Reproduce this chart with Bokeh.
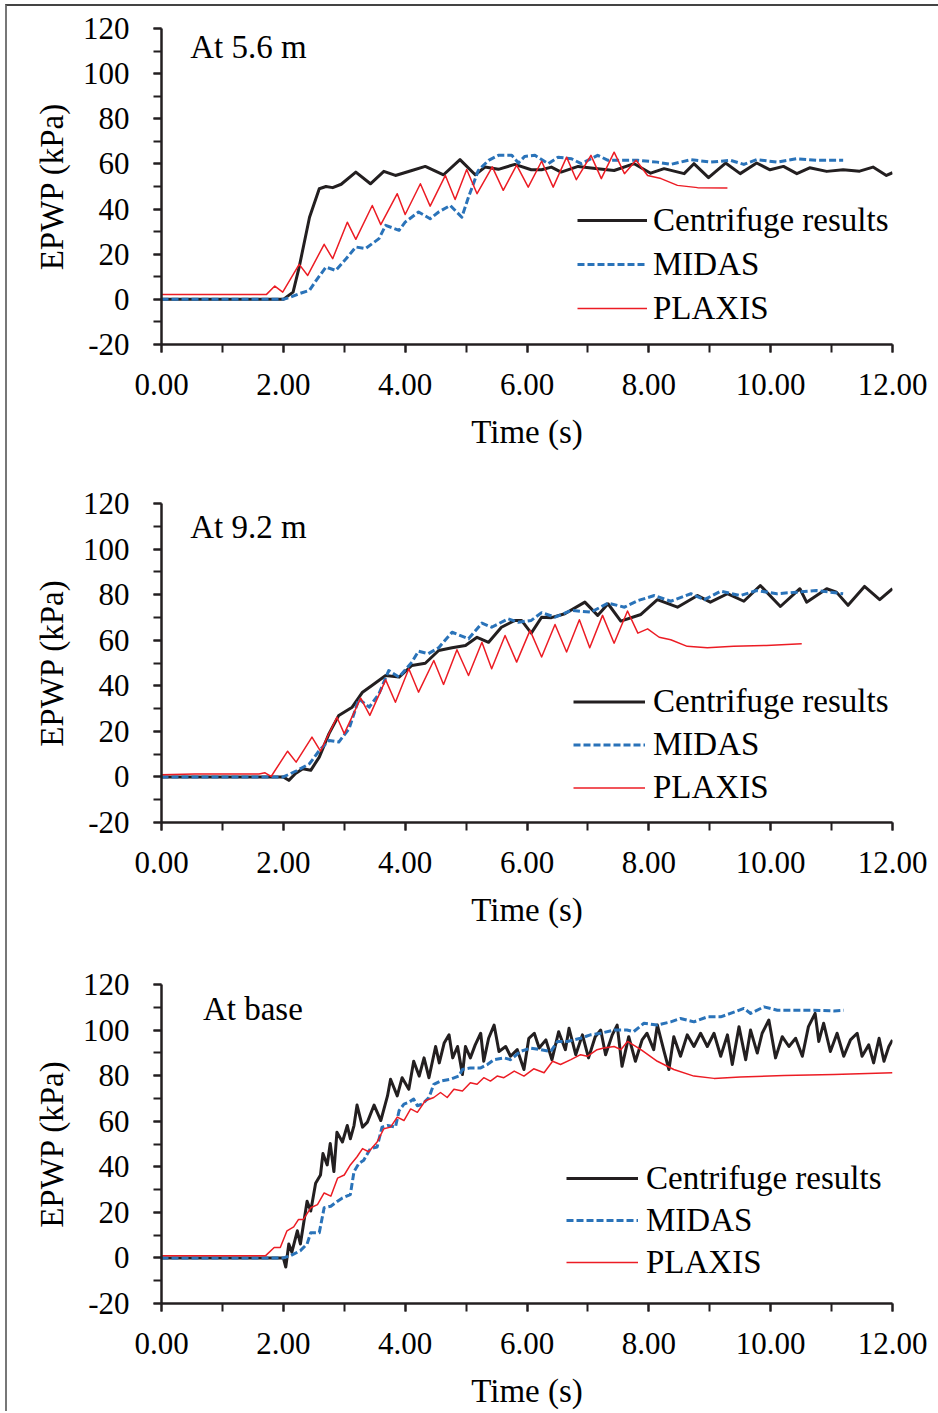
from bokeh.plotting import figure
from bokeh.layouts import column
from bokeh.models import (Range1d, SingleIntervalTicker, PrintfTickFormatter,
                          Legend, Label)
from bokeh.embed import file_html
from bokeh.resources import INLINE

# ---------------- data (time in s, EPWP in kPa) ----------------
# Panel 1 : At 5.6 m
c1_t = [0, 2.0, 2.16, 2.26, 2.43, 2.59, 2.7, 2.81, 2.95, 3.19, 3.43, 3.65, 3.84, 4.11, 4.33, 4.63, 4.90, 5.15, 5.31, 5.53,
        5.80, 6.07, 6.24, 6.40, 6.56, 6.84, 7.16, 7.43, 7.76, 8.03, 8.25, 8.58, 8.74, 8.98, 9.26, 9.50, 9.77, 9.99, 10.21, 10.43,
        10.64, 10.92, 11.19, 11.46, 11.68, 11.90, 12.0]
c1_v = [0, 0, 3.2, 14.3, 36.4, 49, 50, 49.5, 51, 56.4, 51.2, 56.7, 54.9, 57.1, 58.9, 55.2, 61.9, 55.2, 58.6, 57.6,
        59.8, 57.4, 57.4, 58.6, 56.4, 58.9, 57.9, 57.1, 60.1, 55.9, 57.9, 55.7, 60.1, 53.9, 60.4, 55.7, 60.4, 57.4, 58.9, 55.7,
        58.3, 56.7, 57.4, 56.8, 58.6, 54.9, 56.1]
m1_t = [0, 2.0, 2.12, 2.26, 2.43, 2.54, 2.70, 2.86, 3.03, 3.19, 3.35, 3.57, 3.68, 3.90, 4.0, 4.22, 4.41, 4.55, 4.74, 4.93,
        5.04, 5.20, 5.37, 5.53, 5.75, 5.86, 5.96, 6.13, 6.35, 6.51, 6.73, 6.89, 7.16, 7.33, 7.60, 7.82, 8.14, 8.36, 8.69, 9.01,
        9.34, 9.56, 9.77, 10.10, 10.43, 10.75, 11.19]
m1_v = [0, 0, 1, 2.5, 4.0, 8.4, 14.3, 12.8, 18.0, 23.2, 22.5, 26.9, 32.8, 30.6, 34.2, 38.7, 35.7, 38.7, 41.6, 36.4,
        45.3, 57.1, 61.6, 63.8, 63.8, 60.4, 63.3, 63.8, 60.1, 63.0, 62.3, 60.1, 63.8, 61.6, 61.6, 61.6, 60.8, 59.8, 61.9, 60.8,
        61.6, 59.8, 61.9, 60.8, 62.3, 61.6, 61.6]
p1_t = [0, 1.72, 1.86, 1.99, 2.26, 2.40, 2.67, 2.81, 3.05, 3.19, 3.46, 3.60, 3.87, 4.0, 4.25, 4.41, 4.66, 4.82, 5.01, 5.18,
        5.43, 5.61, 5.83, 6.02, 6.24, 6.43, 6.65, 6.81, 7.05, 7.22, 7.43, 7.60, 7.79, 7.98, 8.20, 8.47, 8.80, 9.29]
p1_v = [2.1, 2.1, 5.9, 3.2, 15.5, 10.6, 24.4, 18.0, 34.2, 26.6, 41.6, 33.1, 46.8, 37.6, 51.2, 41.3, 54.9, 44.2, 57.5, 46.8,
        58.7, 48.3, 59.5, 49.7, 61.2, 49.7, 63.0, 53.0, 63.8, 53.5, 65.2, 55.7, 61.6, 54.9, 53.5, 50.5, 49.5, 49.3]

# Panel 2 : At 9.2 m
c2_t = [0, 2.0, 2.09, 2.2, 2.32, 2.45, 2.59, 2.75, 2.91, 3.13, 3.30, 3.46, 3.68, 3.90, 4.11, 4.33, 4.55, 4.77, 4.99, 5.18,
        5.37, 5.58, 5.80, 5.91, 6.07, 6.24, 6.40, 6.62, 6.95, 7.16, 7.33, 7.54, 7.87, 8.14, 8.47, 8.80, 9.01, 9.29, 9.56, 9.83,
        10.16, 10.48, 10.59, 10.92, 11.08, 11.27, 11.54, 11.79, 12.0]
c2_v = [0, 0, -1.5, 1.5, 3.6, 2.9, 8.7, 19.0, 27.0, 30.6, 37.2, 40.2, 44.5, 43.8, 48.9, 49.9, 55.5, 56.7, 57.7, 61.3,
        59.1, 65.7, 68.7, 68.7, 63.1, 70.1, 69.9, 71.6, 76.7, 70.9, 76.0, 68.4, 71.3, 77.8, 74.5, 79.6, 76.7, 80.4, 77.1, 84.0,
        74.8, 82.6, 76.7, 82.6, 81.1, 75.3, 83.6, 77.8, 82.6]
m2_t = [0, 2.0, 2.21, 2.43, 2.59, 2.75, 2.91, 3.08, 3.24, 3.41, 3.57, 3.73, 3.90, 4.11, 4.22, 4.38, 4.55, 4.77, 5.04, 5.26,
        5.42, 5.69, 5.86, 6.07, 6.24, 6.46, 6.73, 7.05, 7.33, 7.60, 7.82, 8.09, 8.36, 8.69, 8.91, 9.18, 9.50, 9.77, 10.10, 10.43,
        10.75, 11.19]
m2_v = [0, 0, 2.6, 5.8, 11.6, 16.0, 15.3, 21.2, 34.3, 30.6, 36.5, 46.7, 43.8, 50.4, 55.2, 54.1, 56.7, 63.5, 60.6, 67.5,
        65.7, 69.4, 67.9, 68.7, 72.1, 70.1, 73.1, 72.3, 76.3, 74.5, 77.4, 79.6, 77.1, 80.4, 77.8, 81.5, 79.6, 81.8, 80.4, 81.1,
        81.8, 80.4]
p2_t = [0, 0.55, 1.6, 1.70, 1.80, 2.07, 2.21, 2.47, 2.61, 2.88, 3.0, 3.27, 3.42, 3.68, 3.84, 4.06, 4.22, 4.47, 4.63, 4.85,
        5.04, 5.26, 5.42, 5.64, 5.83, 6.05, 6.24, 6.46, 6.65, 6.86, 7.03, 7.24, 7.43, 7.65, 7.82, 7.98, 8.17, 8.36, 8.63, 8.96,
        9.39, 9.93, 10.51]
p2_v = [1.0, 1.3, 1.3, 1.8, 0.2, 11.3, 6.5, 17.5, 11.3, 26.2, 19.0, 34.6, 27.0, 42.6, 32.8, 47.5, 37.2, 51.1, 40.6, 55.8,
        44.5, 59.1, 47.5, 62.1, 50.4, 64.3, 52.6, 66.9, 54.8, 69.0, 56.7, 70.9, 58.7, 72.8, 63.1, 65.0, 61.3, 60.2, 57.3, 56.7,
        57.3, 57.7, 58.4]

# Panel 3 : At base
c3_t = [0, 2.0, 2.04, 2.09, 2.14, 2.23, 2.28, 2.39, 2.45, 2.53, 2.61, 2.65, 2.72, 2.77, 2.83, 2.88, 2.97, 3.05, 3.10, 3.16,
        3.21, 3.30, 3.38, 3.49, 3.60, 3.71, 3.76, 3.87, 3.95, 4.06, 4.14, 4.23, 4.31, 4.39, 4.50, 4.56, 4.64, 4.72, 4.78, 4.86,
        4.94, 4.99, 5.07, 5.15, 5.24, 5.29, 5.37, 5.46, 5.54, 5.65, 5.73, 5.84, 5.95, 6.03, 6.12, 6.20, 6.31, 6.41, 6.52, 6.63,
        6.69, 6.80, 6.91, 7.01, 7.12, 7.21, 7.29, 7.40, 7.48, 7.56, 7.67, 7.78, 7.89, 7.97, 8.08, 8.14, 8.25, 8.33, 8.41, 8.52,
        8.63, 8.74, 8.85, 8.96, 9.07, 9.18, 9.29, 9.37, 9.48, 9.59, 9.67, 9.78, 9.86, 9.97, 10.08, 10.19, 10.30, 10.41, 10.52, 10.62,
        10.73, 10.79, 10.87, 10.98, 11.09, 11.20, 11.31, 11.42, 11.50, 11.61, 11.69, 11.78, 11.86, 11.94, 12.0]
c3_v = [0, 0, -4.0, 6.1, 2.5, 11.9, 6.1, 24.9, 20.6, 32.8, 36.4, 45.8, 40.8, 50.2, 37.9, 55.2, 50.9, 58.1, 52.3, 58.1,
        67.1, 57.4, 59.6, 67.1, 60.3, 71.1, 78.4, 71.1, 79.1, 74.0, 86.3, 79.8, 87.8, 79.1, 92.8, 85.6, 94.3, 97.9, 87.8, 92.8,
        80.5, 92.8, 87.8, 93.5, 98.6, 86.3, 96.4, 102.2, 90.6, 92.8, 88.5, 91.4, 82.7, 96.4, 98.6, 92.1, 95.7, 87.0, 99.3, 91.4,
        100.8, 89.2, 97.9, 87.8, 97.1, 100.0, 89.2, 97.9, 102.2, 84.1, 97.1, 86.3, 95.7, 98.6, 91.4, 102.2, 90.6, 82.7, 97.1, 88.5,
        97.9, 92.8, 98.6, 92.8, 98.6, 88.5, 97.9, 84.9, 101.5, 87.0, 100.0, 89.9, 98.6, 104.4, 87.8, 97.1, 92.8, 96.4, 88.5, 101.5,
        107.3, 95.0, 103.0, 90.6, 98.6, 88.5, 95.7, 98.6, 88.5, 93.5, 85.6, 96.4, 86.3, 92.8, 95.7]
m3_t = [0, 2.0, 2.12, 2.28, 2.39, 2.45, 2.59, 2.67, 2.78, 2.89, 2.97, 3.10, 3.16, 3.24, 3.32, 3.43, 3.54, 3.62, 3.71, 3.84,
        3.90, 3.98, 4.06, 4.14, 4.20, 4.28, 4.39, 4.47, 4.58, 4.74, 4.88, 4.94, 5.07, 5.24, 5.35, 5.46, 5.62, 5.73, 5.89, 6.06,
        6.22, 6.39, 6.50, 6.66, 6.88, 7.04, 7.21, 7.43, 7.64, 7.75, 7.92, 8.14, 8.36, 8.52, 8.74, 8.96, 9.18, 9.34, 9.56, 9.67,
        9.89, 10.11, 10.38, 10.71, 11.04, 11.20]
m3_v = [0, 0, 1.0, 3.2, 6.1, 11.1, 11.1, 22.0, 22.7, 24.9, 26.3, 27.8, 37.9, 41.5, 42.9, 48.0, 48.7, 57.4, 58.1, 57.4,
        64.6, 67.5, 68.3, 69.7, 66.8, 67.5, 70.4, 76.2, 77.6, 78.4, 79.8, 82.7, 83.4, 83.4, 84.9, 87.0, 87.8, 87.0, 90.6, 92.1,
        91.4, 90.6, 95.0, 95.0, 96.4, 97.9, 98.6, 100.0, 100.0, 99.3, 103.0, 102.2, 103.6, 105.1, 103.6, 105.8, 105.8, 107.3, 109.5, 107.3,
        110.2, 108.7, 108.7, 108.7, 108.4, 108.7]
p3_t = [0, 1.71, 1.85, 1.95, 2.06, 2.17, 2.25, 2.33, 2.45, 2.56, 2.67, 2.78, 2.89, 3.00, 3.10, 3.21, 3.30, 3.40, 3.54, 3.65,
        3.76, 3.87, 3.98, 4.09, 4.20, 4.33, 4.47, 4.58, 4.69, 4.80, 4.94, 5.07, 5.18, 5.29, 5.40, 5.51, 5.62, 5.79, 5.95, 6.11,
        6.28, 6.42, 6.55, 6.72, 6.88, 6.99, 7.15, 7.26, 7.43, 7.54, 7.65, 7.87, 8.14, 8.41, 8.74, 9.07, 9.50, 10.22, 11.04, 12.0]
p3_v = [1.0, 1.0, 4.6, 4.6, 11.9, 13.6, 16.9, 16.9, 22.0, 23.4, 28.5, 27.1, 35.0, 36.4, 40.8, 44.4, 48.0, 46.6, 50.9, 56.7,
        57.4, 61.8, 60.3, 65.4, 63.9, 69.0, 70.4, 72.6, 70.4, 74.0, 73.3, 76.9, 76.2, 79.1, 77.6, 79.8, 79.1, 82.0, 79.8, 83.0,
        81.3, 86.3, 84.9, 87.0, 89.2, 88.5, 91.4, 92.1, 92.8, 91.4, 95.0, 91.4, 86.3, 82.7, 79.8, 78.8, 79.4, 80.1, 80.5, 81.3]

series_names = ["Centrifuge results", "MIDAS", "PLAXIS"]
panel_titles = ["At 5.6 m", "At 9.2 m", "At base"]
x_label = "Time (s)"
y_label = "EPWP (kPa)"

FONT = "Liberation Serif"
INK = "#231f20"
BLUE = "#2a73b9"
RED = "#ec1c24"


def make_panel(series, title, title_pos, height, borders, legend_loc, legend_pitch, glyph_w, standoff):
    top, bottom, left, right = borders
    p = figure(width=931, height=height, x_range=Range1d(0, 12), y_range=Range1d(-20, 120),
               output_backend="svg", toolbar_location=None,
               min_border_top=top, min_border_bottom=bottom,
               min_border_left=left, min_border_right=right)
    p.outline_line_color = None
    p.grid.visible = False
    p.background_fill_color = "white"

    p.xaxis.ticker = SingleIntervalTicker(interval=2, num_minor_ticks=2)
    p.xaxis.formatter = PrintfTickFormatter(format="%.2f")
    p.yaxis.ticker = SingleIntervalTicker(interval=20, num_minor_ticks=2)
    p.yaxis.formatter = PrintfTickFormatter(format="%d")
    for ax in (p.xaxis[0], p.yaxis[0]):
        ax.axis_line_color = INK
        ax.axis_line_width = 2.5
        ax.major_tick_line_color = INK
        ax.minor_tick_line_color = INK
        ax.major_tick_line_width = 2
        ax.minor_tick_line_width = 2
        ax.major_tick_in = 0
        ax.minor_tick_in = 0
        ax.major_tick_out = 8
        ax.minor_tick_out = 8
        ax.major_label_text_font = FONT
        ax.major_label_text_font_size = "31px"
        ax.major_label_text_color = "black"
        ax.axis_label_text_font = FONT
        ax.axis_label_text_font_size = "33px"
        ax.axis_label_text_font_style = "normal"
        ax.axis_label_text_color = "black"
    p.xaxis.axis_label = x_label
    p.yaxis.axis_label = y_label
    p.xaxis.major_label_standoff = 21
    p.xaxis.axis_label_standoff = 16
    p.yaxis.major_label_standoff = 24
    p.yaxis.axis_label_standoff = 10

    (ct, cv), (mt, mv), (pt, pv) = series
    r1 = p.line(ct, cv, line_color=INK, line_width=3, line_join="round")
    r2 = p.line(mt, mv, line_color=BLUE, line_width=3, line_dash="7 3", line_join="round")
    r3 = p.line(pt, pv, line_color=RED, line_width=1.5, line_join="round")

    legend = Legend(items=[(series_names[0], [r1]), (series_names[1], [r2]), (series_names[2], [r3])],
                    location=legend_loc, orientation="vertical")
    legend.background_fill_alpha = 0
    legend.border_line_color = None
    legend.label_text_font = FONT
    legend.label_text_font_size = "33px"
    legend.label_text_color = "black"
    legend.glyph_width = glyph_w
    legend.glyph_height = legend_pitch
    legend.label_height = legend_pitch
    legend.spacing = 0
    legend.padding = 0
    legend.margin = 0
    legend.label_standoff = standoff
    p.add_layout(legend)

    p.add_layout(Label(x=title_pos[0], y=title_pos[1], text=title, text_baseline="middle",
                       text_font=FONT, text_font_size="33px", text_color="black"))
    return p


f1 = make_panel([(c1_t, c1_v), (m1_t, m1_v), (p1_t, p1_v)], panel_titles[0], (0.47, 111.6),
                475, (22, 137, 151, 45), (416, 14), 44, 70, 6)
f2 = make_panel([(c2_t, c2_v), (m2_t, m2_v), (p2_t, p2_v)], panel_titles[1], (0.47, 109.5),
                478, (22, 137, 151, 45), (412, 13), 43, 72, 8)
f3 = make_panel([(c3_t, c3_v), (m3_t, m3_v), (p3_t, p3_v)], panel_titles[2], (0.68, 109.1),
                452, (25, 105, 154, 46), (405, 20), 42, 72, 8)

layout = column(f1, f2, f3, styles={"margin-top": "4px", "margin-left": "5px",
                                    "border-top": "2px solid #444", "border-left": "2px solid #777"})
open("out.html", "w").write(file_html(layout, INLINE))
